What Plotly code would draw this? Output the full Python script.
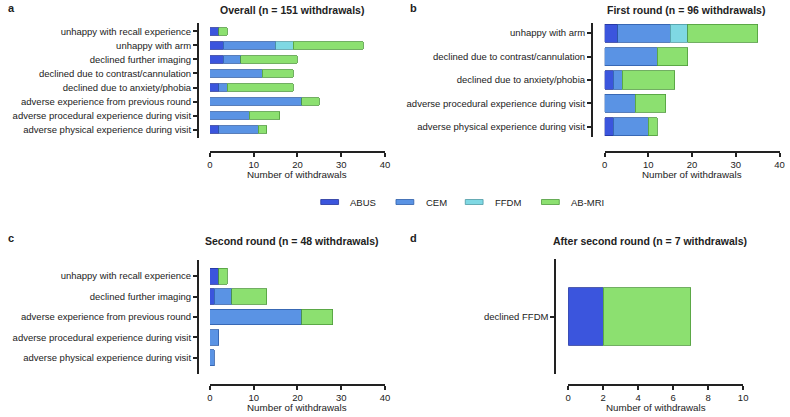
import plotly.graph_objects as go

# ---------------- data ----------------
series = ["ABUS", "CEM", "FFDM", "AB-MRI"]
colors = ["#3b55dd", "#5a93e4", "#7fd8e3", "#8ce070"]
edge = ["#23339a", "#2f5ea8", "#4f9aa4", "#4f9a3c"]

a_cats = ["unhappy with recall experience", "unhappy with arm", "declined further imaging",
          "declined due to contrast/cannulation", "declined due to anxiety/phobia",
          "adverse experience from previous round", "adverse procedural experience during visit",
          "adverse physical experience during visit"]
a_abus = [2, 3, 3, 0, 2, 0, 0, 2]
a_cem = [0, 12, 4, 12, 2, 21, 9, 9]
a_ffdm = [0, 4, 0, 0, 0, 0, 0, 0]
a_mri = [2, 16, 13, 7, 15, 4, 7, 2]

b_cats = ["unhappy with arm", "declined due to contrast/cannulation", "declined due to anxiety/phobia",
          "adverse procedural experience during visit", "adverse physical experience during visit"]
b_abus = [3, 0, 2, 0, 2]
b_cem = [12, 12, 2, 7, 8]
b_ffdm = [4, 0, 0, 0, 0]
b_mri = [16, 7, 12, 7, 2]

c_cats = ["unhappy with recall experience", "declined further imaging",
          "adverse experience from previous round", "adverse procedural experience during visit",
          "adverse physical experience during visit"]
c_abus = [2, 1, 0, 0, 0]
c_cem = [0, 4, 21, 2, 1]
c_ffdm = [0, 0, 0, 0, 0]
c_mri = [2, 8, 7, 0, 0]

d_cats = ["declined FFDM"]
d_abus = [2]
d_cem = [0]
d_ffdm = [0]
d_mri = [5]

titles = ["Overall (n = 151 withdrawals)", "First round (n = 96 withdrawals)",
          "Second round (n = 48 withdrawals)", "After second round (n = 7 withdrawals)"]
panel_letters = ["a", "b", "c", "d"]
x_title = "Number of withdrawals"

# ---------------- layout helpers ----------------
W, H = 790, 417
def px(x):
    return x / W
def py(y):
    return 1 - y / H

FONT = "Liberation Sans, Arial, sans-serif"
TXT = "#222222"

panels = [
    dict(cats=a_cats, vals=[a_abus, a_cem, a_ffdm, a_mri], xr=[0, 40], dt=10, bw=0.52,
         x0=209, x1=386, ylo=138, yhi=23, yline=197, xline=152, yr=[7.6, -0.6]),
    dict(cats=b_cats, vals=[b_abus, b_cem, b_ffdm, b_mri], xr=[0, 40], dt=10, bw=0.77,
         x0=607.7, x1=784.5, ylo=137, yhi=23, yline=595, xline=152, yr=[4.43, -0.43]),
    dict(cats=c_cats, vals=[c_abus, c_cem, c_ffdm, c_mri], xr=[0, 40], dt=10, bw=0.77,
         x0=209, x1=386, ylo=374, yhi=260, yline=197, xline=385, yr=[4.79, -0.79]),
    dict(cats=d_cats, vals=[d_abus, d_cem, d_ffdm, d_mri], xr=[0, 10], dt=2, bw=1.0,
         x0=571, x1=747.7, ylo=374, yhi=259, yline=558, xline=385, yr=[1, -1]),
]

fig = go.Figure()
layout = dict(width=W, height=H, margin=dict(l=0, r=0, t=0, b=0),
              plot_bgcolor="white", paper_bgcolor="white", barmode="stack",
              showlegend=False, font=dict(family=FONT, size=9.5, color=TXT))
annotations = []
shapes = []

for i, p in enumerate(panels):
    k = "" if i == 0 else str(i + 1)
    xa, ya = "x" + k, "y" + k
    for s, name in enumerate(series):
        v = [val if val else None for val in p["vals"][s]]
        fig.add_trace(go.Bar(x=v, y=p["cats"], orientation="h", name=name,
                             xaxis=xa, yaxis=ya, width=p["bw"],
                             marker=dict(color=colors[s], line=dict(color=edge[s], width=0.8)),
                             showlegend=False))
    layout["xaxis" + k] = dict(domain=[px(p["x0"]), px(p["x1"])], range=p["xr"],
                               anchor="free", position=py(p["xline"]),
                               tickmode="linear", tick0=0, dtick=p["dt"],
                               showline=True, linecolor=TXT, linewidth=1.5,
                               ticks="outside", ticklen=4, tickwidth=1.5, tickcolor=TXT,
                               showgrid=False, zeroline=False, fixedrange=True,
                               tickfont=dict(size=9.5, color=TXT))
    layout["yaxis" + k] = dict(domain=[py(p["ylo"]), py(p["yhi"])], range=p["yr"],
                               type="category", anchor="free", position=px(p["yline"]),
                               showline=True, linecolor=TXT, linewidth=2,
                               ticks="outside", ticklen=4, tickwidth=1.5, tickcolor=TXT,
                               showgrid=False, zeroline=False, fixedrange=True,
                               tickfont=dict(size=9.5, color=TXT))
    # axis title
    annotations.append(dict(text=x_title, x=px((p["x0"] + p["x1"]) / 2), y=py(p["xline"] + 22),
                            xref="paper", yref="paper", showarrow=False,
                            xanchor="center", yanchor="middle",
                            font=dict(size=9.8, color=TXT)))
    # panel title
    ty = 10 if i < 2 else 241
    annotations.append(dict(text="<b>%s</b>" % titles[i], x=px((p["x0"] + p["x1"]) / 2 - 6), y=py(ty),
                            xref="paper", yref="paper", showarrow=False,
                            xanchor="center", yanchor="middle",
                            font=dict(size=10.5, color=TXT)))
    # panel letter
    lx = 3 if i in (0, 2) else 409
    ly = 8 if i < 2 else 238
    annotations.append(dict(text="<b>%s</b>" % panel_letters[i], x=px(lx), y=py(ly),
                            xref="paper", yref="paper", showarrow=False,
                            xanchor="left", yanchor="middle",
                            font=dict(size=11, color=TXT)))

# custom legend
leg_x = [321, 397, 467, 544]
leg_y = 202
for s, name in enumerate(series):
    shapes.append(dict(type="rect", xref="paper", yref="paper",
                       x0=px(leg_x[s]), x1=px(leg_x[s] + 18), y0=py(leg_y + 2.5), y1=py(leg_y - 2.5),
                       fillcolor=colors[s], line=dict(color=edge[s], width=0.8)))
    annotations.append(dict(text=name, x=px(leg_x[s] + 28), y=py(leg_y), xref="paper", yref="paper",
                            showarrow=False, xanchor="left", yanchor="middle",
                            font=dict(size=9.5, color=TXT)))

layout["annotations"] = annotations
layout["shapes"] = shapes
fig.update_layout(**layout)
fig.write_html("out.html")
